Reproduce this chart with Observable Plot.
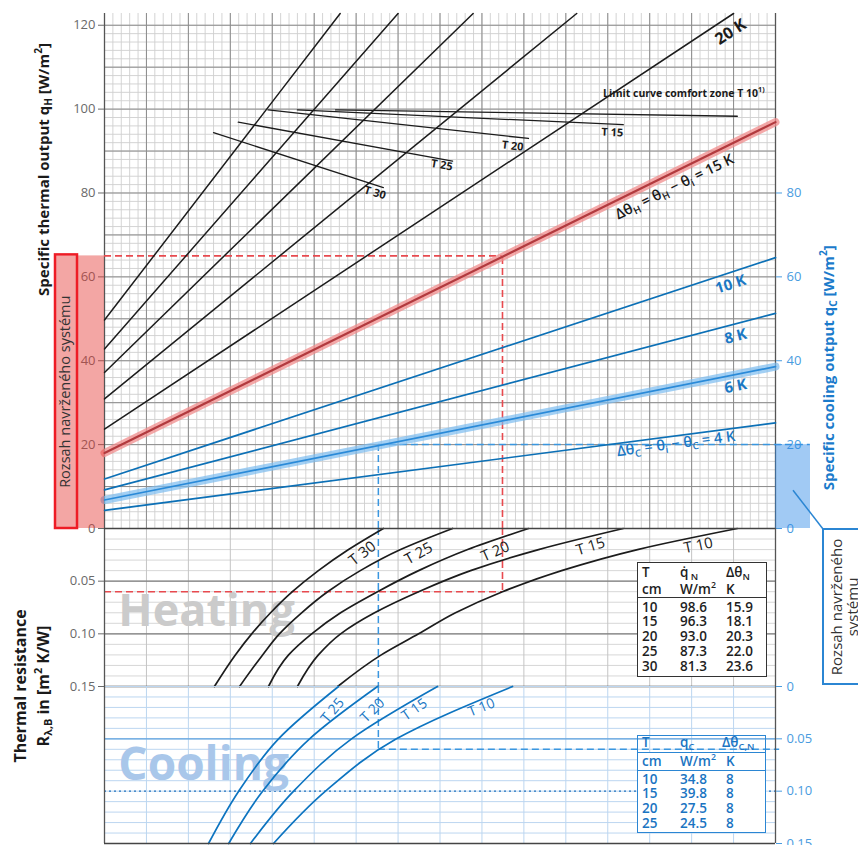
<!DOCTYPE html>
<html><head><meta charset="utf-8">
<script src="https://cdn.jsdelivr.net/npm/d3@7"></script>
<script src="https://cdn.jsdelivr.net/npm/@observablehq/plot@0.6"></script>
<style>
html,body{margin:0;padding:0;background:#fff}
#wrap{position:relative;width:858px;height:845px;overflow:hidden;background:#fff;font-family:"Open Sans","Noto Sans",sans-serif}
#wrap > svg{position:absolute;left:0}
.tbl{position:absolute;box-sizing:border-box;font-weight:600;font-size:13.5px}
.tbl .c{position:absolute;line-height:13px;white-space:nowrap}
.tbl sub{font-size:70%;vertical-align:baseline;position:relative;top:3px;line-height:0}
.tbl sup{font-size:65%;vertical-align:baseline;position:relative;top:-6px;line-height:0}
</style></head><body><div id="wrap"></div>
<script>
// ---------------- DATA ----------------
// abscissa: unlabelled, 16 grid columns
const xDomain = [0, 16];
const qMax = 122.8;
const rDomain = [0, 0.15];
const qTicks = [0, 20, 40, 60, 80, 100, 120];
const qcTicks = [0, 20, 40, 60, 80];
const rTicksLeft = [0.05, 0.10, 0.15];
const rTicksRight = [0, 0.05, 0.10, 0.15];

// heating lines (black): temperature difference [K], start and end points
const heatLineK = [40, 35, 30, 25, 20];
const heatLineStartX = [0, 0, 0, 0, 0];
const heatLineStartQ = [49.7, 42.8, 37.2, 30.9, 23.7];
const heatLineEndX = [5.62, 7.0, 8.79, 11.26, 15.0];
const heatLineEndQ = [122.8, 122.8, 122.8, 122.8, 122.8];

// design heating line 15 K
const designStartQ = 18.0;
const designEndQ = 96.9;

// cooling lines (blue)
const coolLineK = [10, 8, 6, 4];
const coolLineStartQ = [11.8, 9.2, 6.8, 4.3];
const coolLineEndQ = [64.6, 51.3, 38.6, 25.2];

// comfort-zone limit curves
const limitT = [10, 15, 20, 25, 30];
const limitStartX = [5.51, 4.60, 3.90, 3.19, 2.60];
const limitStartQ = [99.8, 99.8, 99.8, 96.9, 94.4];
const limitEndX = [15.09, 12.37, 10.11, 8.30, 6.65];
const limitEndQ = [98.3, 96.3, 93.0, 87.6, 81.3];

// heating resistance curves (x at given R)
const heatCurveR = [0.15, 0.12, 0.10, 0.08, 0.06, 0.04, 0.02, 0];
const heatCurveT30 = [2.62, 3.12, 3.51, 3.96, 4.48, 5.10, 5.82, 6.65];
const heatCurveT25 = [3.22, 3.77, 4.17, 4.70, 5.32, 6.10, 7.06, 8.30];
const heatCurveT20 = [3.91, 4.39, 4.94, 5.63, 6.51, 7.49, 8.66, 10.11];
const heatCurveT15 = [4.60, 5.10, 5.63, 6.44, 7.49, 8.73, 10.35, 12.37];
const heatCurveT10 = [5.56, 6.60, 7.49, 8.37, 9.49, 10.90, 12.71, 15.09];

// cooling resistance curves
const coolCurveR = [0.15, 0.10, 0.05, 0];
const coolCurveT25 = [2.48, 3.20, 4.15, 5.58];
const coolCurveT20 = [2.96, 3.77, 4.89, 6.51];
const coolCurveT15 = [3.48, 4.51, 5.89, 7.94];
const coolCurveT10 = [4.03, 5.27, 6.96, 9.73];

// design example points
const designQ = 65, designR = 0.06, designX = 9.49;
const coolQ = 20, coolR = 0.06, coolX = 6.53;
const heatRange = [0, 65];
const coolRange = [0, 20];

// tables
const heatTabT = [10, 15, 20, 25, 30];
const heatTabQ = [98.6, 96.3, 93.0, 87.3, 81.3];
const heatTabDT = [15.9, 18.1, 20.3, 22.0, 23.6];
const coolTabT = [10, 15, 20, 25];
const coolTabQ = [34.8, 39.8, 27.5, 24.5];
const coolTabDT = [8, 8, 8, 8];

// ---------------- LAYOUT / STYLE ----------------
const FONT = '"Open Sans","Noto Sans",sans-serif';
const W = 858, ML = 104, MR = 83;
const H_TOP = 528, MID_TOP = 528, H_MID = 158, BOT_TOP = 686, H_BOT = 159;
const BLUE = "#0c70b6", BLUE_TXT = "#1b78c4", BLUE_TICK = "#4a9ce0";
const DASH = "7,4";
const baseStyle = {fontFamily: FONT, fontSize: "13px", background: "transparent", overflow: "visible"};

const majorX = d3.range(0, 16.001, 1);
const minorX = d3.range(0, 16.001, 0.2);
const majorQ = d3.range(0, 121, 10);
const minorQ = d3.range(0, 122, 2);
const minorR = d3.range(0, 0.1501, 0.01);

const heatRows = heatLineK.flatMap((k, i) => [
  {k, x: heatLineStartX[i], q: heatLineStartQ[i]},
  {k, x: heatLineEndX[i], q: heatLineEndQ[i]}]);
const designRows = [{x: 0, q: designStartQ}, {x: 16, q: designEndQ}];
const coolRows = coolLineK.flatMap((k, i) => [{k, x: 0, q: coolLineStartQ[i]}, {k, x: 16, q: coolLineEndQ[i]}]);
const limitRows = limitT.flatMap((t, i) => [{t, x: limitStartX[i], q: limitStartQ[i]}, {t, x: limitEndX[i], q: limitEndQ[i]}]);
const heatCurveRows = [[30, heatCurveT30], [25, heatCurveT25], [20, heatCurveT20], [15, heatCurveT15], [10, heatCurveT10]]
  .flatMap(([t, xs]) => xs.map((x, j) => ({t, x, r: heatCurveR[j]})));
const coolCurveRows = [[25, coolCurveT25], [20, coolCurveT20], [15, coolCurveT15], [10, coolCurveT10]]
  .flatMap(([t, xs]) => xs.map((x, j) => ({t, x, r: coolCurveR[j]})));

const wrap = document.getElementById("wrap");

// ---------------- TOP PANEL ----------------
const plotA = Plot.plot({
  width: W, height: H_TOP, marginTop: 13, marginBottom: 0, marginLeft: ML, marginRight: MR,
  x: {domain: xDomain, axis: null},
  y: {domain: [0, qMax]},
  style: baseStyle,
  marks: [
    Plot.ruleX(minorX, {stroke: "#cfcfcf", strokeWidth: 0.9}),
    Plot.ruleY(minorQ, {stroke: "#cfcfcf", strokeWidth: 0.9}),
    Plot.ruleX(majorX, {stroke: "#8c8c8c", strokeWidth: 1}),
    Plot.ruleY(majorQ, {stroke: "#8c8c8c", strokeWidth: 1}),
    Plot.ruleX([0, 16], {stroke: "#555", strokeWidth: 1.3}),
    // dashed design guides
    Plot.ruleY([designQ], {x1: 0, x2: designX, stroke: "#e84a4f", strokeWidth: 1.6, strokeDasharray: DASH}),
    Plot.ruleX([designX], {y1: 0, y2: designQ, stroke: "#e84a4f", strokeWidth: 1.6, strokeDasharray: DASH}),
    Plot.ruleY([coolQ], {x1: coolX, x2: 16.83, stroke: "#3a97e0", strokeWidth: 1.5, strokeDasharray: DASH}),
    Plot.ruleX([coolX], {y1: 0, y2: coolQ, stroke: "#3a97e0", strokeWidth: 1.5, strokeDasharray: DASH}),
    // lines
    Plot.line(heatRows, {x: "x", y: "q", z: "k", stroke: "#1c1c1c", strokeWidth: 1.5}),
    Plot.line(limitRows, {x: "x", y: "q", z: "t", stroke: "#1c1c1c", strokeWidth: 1.3}),
    Plot.line(designRows, {x: "x", y: "q", stroke: "#f08c8c", strokeWidth: 8, strokeOpacity: 0.75}),
    Plot.line(designRows, {x: "x", y: "q", stroke: "#b23a3e", strokeWidth: 2.2}),
    Plot.line(coolRows.filter(d => d.k === 6), {x: "x", y: "q", stroke: "#7cbcf0", strokeWidth: 8, strokeOpacity: 0.7}),
    Plot.line(coolRows, {x: "x", y: "q", z: "k", stroke: d => d.k === 6 ? "#2a8ad8" : BLUE, strokeWidth: 1.7}),
    // labels
    Plot.text(["20 K"], {x: 14.93, y: 118.4, rotate: -33, fontSize: 16, fontWeight: "bold", fill: "#1c1c1c"}),
    Plot.text(["10 K"], {x: 14.93, y: 58.2, rotate: -18, fontSize: 15, fontWeight: "bold", fill: BLUE_TXT}),
    Plot.text(["8 K"], {x: 15.05, y: 45.8, rotate: -14.5, fontSize: 15, fontWeight: "bold", fill: BLUE_TXT}),
    Plot.text(["6 K"], {x: 15.05, y: 33.9, rotate: -11, fontSize: 15, fontWeight: "bold", fill: BLUE_TXT}),
    Plot.text(["T 15"], {x: 12.37, y: 94.3, rotate: 2.6, textAnchor: "end", fontSize: 11, fontWeight: "bold", fill: "#1c1c1c"}),
    Plot.text(["T 20"], {x: 9.99, y: 90.9, rotate: 6.4, textAnchor: "end", fontSize: 11, fontWeight: "bold", fill: "#1c1c1c"}),
    Plot.text(["T 25"], {x: 8.30, y: 86.2, rotate: 9.8, textAnchor: "end", fontSize: 11, fontWeight: "bold", fill: "#1c1c1c"}),
    Plot.text(["T 30"], {x: 6.70, y: 79.3, rotate: 17, textAnchor: "end", fontSize: 11, fontWeight: "bold", fill: "#1c1c1c"}),
    // axes
    Plot.axisY({ticks: qTicks, anchor: "left", tickSize: 6, tickPadding: 3, color: "#6a6a6a", label: null}),
    Plot.axisY({ticks: qcTicks, anchor: "right", tickSize: 6, tickPadding: 5, color: BLUE_TICK, label: null})
  ]
});
plotA.style.top = "0px";
wrap.appendChild(plotA);

// ---------------- MIDDLE PANEL (heating resistance) ----------------
const plotB = Plot.plot({
  width: W, height: H_MID, marginTop: 0, marginBottom: 0, marginLeft: ML, marginRight: MR,
  x: {domain: xDomain, axis: null},
  y: {domain: rDomain, reverse: true},
  style: baseStyle,
  marks: [
    Plot.ruleY(minorR, {stroke: "#d2d2d2", strokeWidth: 0.9}),
    Plot.ruleX(majorX, {stroke: "#c4c4c4", strokeWidth: 1}),
    Plot.ruleY([0.05, 0.10], {stroke: "#7d7d7d", strokeWidth: 1.1}),
    Plot.text(["Heating"], {x: 0.33, y: 0.079, textAnchor: "start", fontSize: 45, fontWeight: "bold", fill: "#cbcbcb"}),
    Plot.ruleX([designX], {y1: 0, y2: designR, stroke: "#e84a4f", strokeWidth: 1.6, strokeDasharray: DASH}),
    Plot.ruleY([designR], {x1: 0, x2: designX, stroke: "#e84a4f", strokeWidth: 1.6, strokeDasharray: DASH}),
    Plot.ruleX([coolX], {y1: 0, y2: 0.15, stroke: "#3a97e0", strokeWidth: 1.5, strokeDasharray: DASH}),
    Plot.line(heatCurveRows, {x: "x", y: "r", z: "t", curve: "monotone-y", stroke: "#1c1c1c", strokeWidth: 1.7}),
    Plot.text(["T 30"], {x: 6.15, y: 0.0237, rotate: -38, fontSize: 15, fontWeight: 500, fill: "#1c1c1c"}),
    Plot.text(["T 25"], {x: 7.49, y: 0.0237, rotate: -29, fontSize: 15, fontWeight: 500, fill: "#1c1c1c"}),
    Plot.text(["T 20"], {x: 9.32, y: 0.0218, rotate: -24, fontSize: 15, fontWeight: 500, fill: "#1c1c1c"}),
    Plot.text(["T 15"], {x: 11.59, y: 0.0171, rotate: -17, fontSize: 15, fontWeight: 500, fill: "#1c1c1c"}),
    Plot.text(["T 10"], {x: 14.16, y: 0.0161, rotate: -12, fontSize: 15, fontWeight: 500, fill: "#1c1c1c"}),
    Plot.ruleX([0, 16], {stroke: "#555", strokeWidth: 1.3}),
    Plot.ruleY([0, 0.15], {stroke: "#444", strokeWidth: 1.6}),
    Plot.axisY({ticks: rTicksLeft, anchor: "left", tickSize: 6, tickPadding: 3, tickFormat: d => d.toFixed(2), color: "#6a6a6a", label: null})
  ]
});
plotB.style.top = MID_TOP + "px";
wrap.appendChild(plotB);

// ---------------- BOTTOM PANEL (cooling resistance) ----------------
const plotC = Plot.plot({
  width: W, height: H_BOT, marginTop: 0, marginBottom: 2, marginLeft: ML, marginRight: MR,
  x: {domain: xDomain, axis: null},
  y: {domain: rDomain, reverse: true},
  style: baseStyle,
  marks: [
    Plot.ruleY(minorR, {stroke: "#bcd6f0", strokeWidth: 1}),
    Plot.ruleX(majorX, {stroke: "#bcd6f0", strokeWidth: 1}),
    Plot.ruleY([0.05], {stroke: "#5ea2de", strokeWidth: 1.1}),
    Plot.ruleY([0.10], {stroke: "#2373bd", strokeWidth: 1.2, strokeDasharray: "2,3"}),
    Plot.text(["Cooling"], {x: 0.33, y: 0.075, textAnchor: "start", fontSize: 46, fontWeight: "bold", fill: "#a9c7ea"}),
    Plot.ruleX([coolX], {y1: 0, y2: coolR, stroke: "#3a97e0", strokeWidth: 1.5, strokeDasharray: DASH}),
    Plot.ruleY([coolR], {x1: coolX, x2: 16.1, stroke: "#3a97e0", strokeWidth: 1.5, strokeDasharray: DASH}),
    Plot.line(coolCurveRows, {x: "x", y: "r", z: "t", curve: "monotone-y", stroke: "#0d74c0", strokeWidth: 1.7}),
    Plot.text(["T 25"], {x: 5.44, y: 0.0229, rotate: -50, fontSize: 14, fontWeight: 500, fill: BLUE_TXT}),
    Plot.text(["T 20"], {x: 6.39, y: 0.0229, rotate: -45, fontSize: 14, fontWeight: 500, fill: BLUE_TXT}),
    Plot.text(["T 15"], {x: 7.39, y: 0.0220, rotate: -35, fontSize: 14, fontWeight: 500, fill: BLUE_TXT}),
    Plot.text(["T 10"], {x: 8.99, y: 0.0201, rotate: -22, fontSize: 14, fontWeight: 500, fill: BLUE_TXT}),
    Plot.ruleX([0, 16], {stroke: "#555", strokeWidth: 1.3}),
    Plot.ruleY([0.15], {stroke: "#444", strokeWidth: 1.6}),
    Plot.axisY({ticks: rTicksRight, anchor: "right", tickSize: 6, tickPadding: 5, tickFormat: d => d === 0 ? "0" : d.toFixed(2), color: BLUE_TICK, label: null})
  ]
});
plotC.style.top = BOT_TOP + "px";
wrap.appendChild(plotC);

// ---------------- TABLES ----------------
const cell = (x, y, s) => `<div class="c" style="left:${x}px;top:${y - 6.5}px">${s}</div>`;
const cx = [4, 42, 88];
{
  const ht = document.createElement("div");
  ht.className = "tbl";
  Object.assign(ht.style, {left: "637px", top: "562px", width: "130px", height: "115px", border: "1.5px solid #333", background: "#fff", color: "#1e1e1e"});
  let h = cell(cx[0], 9, "T") + cell(cx[1], 9, "q&#775;&thinsp;<sub>N</sub>") + cell(cx[2], 9, "&Delta;&theta;<sub>N</sub>");
  h += cell(cx[0], 26, "cm") + cell(cx[1], 26, "W/m<sup>2</sup>") + cell(cx[2], 26, "K");
  h += `<div style="position:absolute;left:0;right:0;top:34px;border-top:1.5px solid #333"></div>`;
  heatTabT.forEach((t, i) => {
    const y = 44 + i * 14.9;
    h += cell(cx[0], y, t) + cell(cx[1], y, heatTabQ[i].toFixed(1)) + cell(cx[2], y, heatTabDT[i].toFixed(1));
  });
  ht.innerHTML = h;
  wrap.appendChild(ht);
}
{
  const ct = document.createElement("div");
  ct.className = "tbl";
  Object.assign(ct.style, {left: "637px", top: "735px", width: "129px", height: "98px", border: "1.5px solid #2b86d3",
    background: "linear-gradient(to bottom, rgba(255,255,255,0) 0px, rgba(255,255,255,0) 16px, #fff 16px)", color: "#1a74c2"});
  let h = cell(cx[0], 6.5, "T") + cell(cx[1], 6.5, "q<sub>C</sub>") + cell(cx[2] - 4, 6.5, "&Delta;&theta;<sub>C,N</sub>");
  h += `<div style="position:absolute;left:0;right:0;top:16px;border-top:1.5px solid #2b86d3"></div>`;
  h += cell(cx[0], 25.5, "cm") + cell(cx[1], 25.5, "W/m<sup>2</sup>") + cell(cx[2], 25.5, "K");
  h += `<div style="position:absolute;left:0;right:0;top:34px;border-top:1.5px solid #2b86d3"></div>`;
  coolTabT.forEach((t, i) => {
    const y = 43 + i * 14.9;
    h += cell(cx[0], y, t) + cell(cx[1], y, coolTabQ[i].toFixed(1)) + cell(cx[2], y, coolTabDT[i]);
  });
  ct.innerHTML = h;
  wrap.appendChild(ct);
}

// ---------------- OVERLAY (annotations using plot scales) ----------------
const sx = plotA.scale("x"), syA = plotA.scale("y"), syB = plotB.scale("y"), syC = plotC.scale("y");
const X = v => sx.apply(v);
const YA = v => syA.apply(v);
const YB = v => MID_TOP + syB.apply(v);
const YC = v => BOT_TOP + syC.apply(v);

const ov = d3.select(wrap).append("svg").attr("width", W).attr("height", 845)
  .style("top", "0px").style("overflow", "visible").attr("font-family", FONT);

function rich(parent, o, parts) {
  const size = o.size || 14;
  const t = parent.append("text")
    .attr("transform", `translate(${o.x},${o.y}) rotate(${o.rotate || 0})`)
    .attr("text-anchor", o.anchor || "middle")
    .attr("dominant-baseline", "middle")
    .attr("font-size", size)
    .attr("font-weight", o.weight || "bold")
    .attr("fill", o.fill || "#1a1a1a");
  let shift = 0;
  for (const p of parts) {
    const [s, kind] = Array.isArray(p) ? p : [p, null];
    const target = kind === "sub" ? size * 0.28 : kind === "sup" ? -size * 0.38 : 0;
    const ts = t.append("tspan").text(s).attr("dy", target - shift);
    if (kind) ts.attr("font-size", size * 0.68);
    shift = target;
  }
  return t;
}

// heating system range (left)
const xl = X(0);
ov.append("rect").attr("x", xl - 49).attr("width", 49)
  .attr("y", YA(heatRange[1])).attr("height", YA(heatRange[0]) - YA(heatRange[1]))
  .attr("fill", "#e53935").attr("fill-opacity", 0.45);
ov.append("rect").attr("x", xl - 49).attr("width", 22)
  .attr("y", YA(heatRange[1]) - 1).attr("height", YA(heatRange[0]) - YA(heatRange[1]) + 1)
  .attr("fill", "none").attr("stroke", "#ee1c25").attr("stroke-width", 2.5);
ov.append("text").attr("transform", `translate(${xl - 38},${(YA(heatRange[0]) + YA(heatRange[1])) / 2}) rotate(-90)`)
  .attr("text-anchor", "middle").attr("dominant-baseline", "middle").attr("font-size", 14.5).attr("fill", "#333")
  .text("Rozsah navrženého systému");

// cooling system range (right)
const xr = X(16);
ov.append("rect").attr("x", xr).attr("width", 35)
  .attr("y", YA(coolRange[1])).attr("height", YA(coolRange[0]) - YA(coolRange[1]))
  .attr("fill", "#2e8ae6").attr("fill-opacity", 0.45);
ov.append("line").attr("x1", xr + 18).attr("y1", YA(9)).attr("x2", xr + 48).attr("y2", YA(0) + 1)
  .attr("stroke", "#2b86d3").attr("stroke-width", 1.5);
ov.append("rect").attr("x", xr + 48).attr("y", YA(0) + 1).attr("width", 60).attr("height", 155)
  .attr("fill", "#fff").attr("stroke", "#2b86d3").attr("stroke-width", 2);
ov.append("text").attr("transform", `translate(${xr + 63},${YA(0) + 79}) rotate(-90)`)
  .attr("text-anchor", "middle").attr("dominant-baseline", "middle").attr("font-size", 15).attr("fill", "#333")
  .text("Rozsah navrženého");
ov.append("text").attr("transform", `translate(${xr + 79},${YA(0) + 79}) rotate(-90)`)
  .attr("text-anchor", "middle").attr("dominant-baseline", "middle").attr("font-size", 15).attr("fill", "#333")
  .text("systému");

// axis titles
rich(ov, {x: 45, y: YA(85.5), rotate: -90, size: 15}, ["Specific thermal output q", ["H", "sub"], " [W/m", ["2", "sup"], "]"]);
rich(ov, {x: 830, y: YA(38.2), rotate: -90, size: 15, fill: "#1b7bcb"}, ["Specific cooling output q", ["C", "sub"], " [W/m", ["2", "sup"], "]"]);
rich(ov, {x: 22, y: YB(0.15), rotate: -90, size: 16}, ["Thermal resistance"]);
rich(ov, {x: 45, y: YB(0.15), rotate: -90, size: 16}, ["R", ["λ,B", "sub"], " in [m", ["2", "sup"], " K/W]"]);

// line annotations
rich(ov, {x: X(13.61), y: YA(81.2), rotate: -26.2, size: 14.5, weight: 600},
  ["Δθ", ["H", "sub"], " = θ", ["H", "sub"], " − θ", ["i", "sub"], " = 15 K"]);
rich(ov, {x: X(13.64), y: YA(19.9), rotate: -7.4, size: 14.5, weight: 600, fill: BLUE_TXT},
  ["Δθ", ["C", "sub"], " = θ", ["i", "sub"], " − θ", ["C", "sub"], " = 4 K"]);
rich(ov, {x: X(11.9), y: YA(103.4), anchor: "start", size: 10.5},
  ["Limit curve comfort zone T 10", ["1)", "sup"]]);
</script></body></html>
